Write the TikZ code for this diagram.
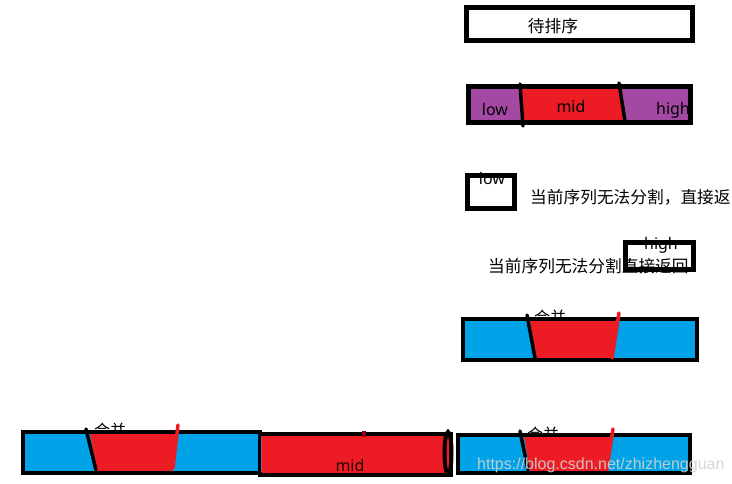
\documentclass[tikz,border=0pt]{standalone}
\usepackage{fontspec}
\setmainfont{Noto Sans CJK SC}
\newfontfamily\lat{Noto Sans}
\newfontfamily\wm{Liberation Sans}
\definecolor{ppl}{HTML}{A349A4}
\definecolor{rd}{HTML}{ED1C24}
\definecolor{bl}{HTML}{00A2E8}
\definecolor{drd}{HTML}{880015}
\tikzset{
  frame/.style={draw=black,line width=4.5pt},
  divline/.style={draw=black,line width=3.5pt,line cap=round},
  redline/.style={draw=rd,line width=3.5pt,line cap=round},
  cjk/.style={inner sep=0pt,font=\fontsize{16.7}{18}\selectfont},
  latin/.style={inner sep=0pt,font=\lat\fontsize{16}{18}\selectfont},
  small/.style={inner sep=0pt,font=\fontsize{16}{18}\selectfont},
}
\begin{document}
\begin{tikzpicture}[x=1pt,y=-1pt]
\useasboundingbox[fill=white] (0,0) rectangle (732,484);
% top box
\draw[frame,fill=white] (466.5,7.5) rectangle (692.5,40.5);
\node[cjk] (t1) at (553,26) {待排序};
% purple box
\fill[ppl] (468.5,86.5) rectangle (690.5,122.5);
\fill[rd] (521,86.5) -- (619,86.5) -- (625,122.5) -- (523,122.5) -- cycle;
\node[latin] (lo) at (495,110) {low};
\node[latin] (mi) at (571,107) {mid};
\node[latin] (hi) at (673,110) {high};
\draw[frame] (468.5,86.5) rectangle (690.5,122.5);
\draw[divline] (520,84) -- (523,126);
\draw[divline] (619,83) -- (625,121);
% low box
\node[latin] (lo2) at (492,179) {low};
\draw[frame] (467.5,175.5) rectangle (514.5,208.5);
\node[cjk,anchor=west] (c1) at (530,197) {当前序列无法分割，直接返};
% high box
\node[latin] (hi2) at (661,245) {high};
\draw[frame] (625.5,242.5) rectangle (693.5,269.5);
\node[cjk,anchor=west] (c2) at (488,266) {当前序列无法分割直接返回};
% middle blue box
\node[small] (m1) at (550,317) {合并};
\fill[bl] (463,319) rectangle (697,360);
\fill[rd] (530,320) -- (617,320) -- (613,358) -- (536,358) -- cycle;
\draw[frame] (463,319) rectangle (697,360);
\draw[divline] (527,315) -- (535,358);
\draw[redline] (619,313) -- (612,358);
% bottom box 1
\node[small] (m2) at (110,430) {合并};
\fill[bl] (23,432) rectangle (260,473);
\fill[rd] (90,433) -- (178,433) -- (173,471) -- (97,471) -- cycle;
\draw[frame] (23,432) rectangle (260,473);
\draw[divline] (86,429) -- (96,470);
\draw[redline] (178,425) -- (173,468);
% bottom box 2
\fill[rd] (260,434) rectangle (451,475);
\node[latin,text=black!85!rd] (mi2) at (350,465) {mid};
\draw[frame] (260,434) rectangle (451,475);
\draw[ppl,line width=1pt] (261.5,436) -- (261.5,472);
\fill[drd] (362,431) rectangle (366,437);
\draw[black,line width=4pt] (448,453) ellipse [x radius=3.5pt,y radius=21pt];
% bottom box 3
\node[small] (m3) at (543,434) {合并};
\fill[bl] (458,435) rectangle (690,473);
\fill[rd] (524,436) -- (612,436) -- (608,471) -- (530,471) -- cycle;
\draw[frame] (458,435) rectangle (690,473);
\draw[divline] (520,431) -- (528,470);
\draw[redline] (613,429) -- (607,469);
% watermark
\node[inner sep=0pt,anchor=west,font=\wm\fontsize{16}{18}\selectfont,text=gray!35,opacity=0.9] (w) at (477,465) {https://blog.csdn.net/zhizhengguan};
\end{tikzpicture}
\end{document}
